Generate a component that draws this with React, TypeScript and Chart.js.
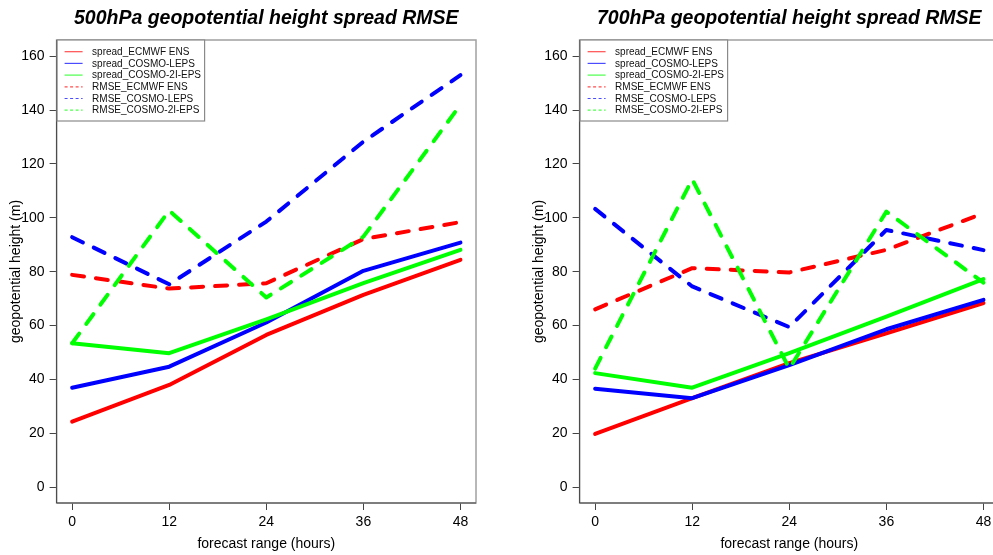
import { useEffect, useRef } from "react";
import { Chart, registerables } from "chart.js";

Chart.register(...registerables);

const FONT = "'Liberation Sans', Arial, Helvetica, sans-serif";

// ---- data ----
const hours = [0, 12, 24, 36, 48];
const yTickValues = [0, 20, 40, 60, 80, 100, 120, 140, 160];
const seriesLabels = [
  "spread_ECMWF ENS",
  "spread_COSMO-LEPS",
  "spread_COSMO-2I-EPS",
  "RMSE_ECMWF ENS",
  "RMSE_COSMO-LEPS",
  "RMSE_COSMO-2I-EPS",
];
const seriesColors = ["#FF0000", "#0000FF", "#00FF00", "#FF0000", "#0000FF", "#00FF00"];
const seriesDashed = [false, false, false, true, true, true];

const titles = [
  "500hPa geopotential height spread RMSE",
  "700hPa geopotential height spread RMSE",
];
const xAxisTitle = "forecast range (hours)";
const yAxisTitle = "geopotential height (m)";

// 500 hPa
const spreadECMWF500 = [24.3, 37.9, 56.5, 71.4, 84.4];
const spreadLEPS500 = [36.9, 44.7, 61.1, 80.3, 90.8];
const spread2I500 = [53.4, 49.7, 62.3, 75.7, 88.1];
const rmseECMWF500 = [78.8, 73.7, 75.7, 92.1, 98.4];
const rmseLEPS500 = [92.8, 75.3, 98.6, 128.3, 153.0];
const rmse2I500 = [53.4, 102.7, 70.4, 93.0, 142.0];

// 700 hPa
const spreadECMWF700 = [19.7, 33.0, 46.0, 57.1, 68.3];
const spreadLEPS700 = [36.5, 33.0, 45.3, 58.6, 69.5];
const spread2I700 = [42.3, 36.9, 49.7, 63.3, 77.2];
const rmseECMWF700 = [66.0, 81.3, 79.7, 88.1, 101.7];
const rmseLEPS700 = [103.3, 74.5, 59.4, 95.5, 88.0];
const rmse2I700 = [44.0, 114.3, 44.0, 102.3, 75.9];

const panel500 = [spreadECMWF500, spreadLEPS500, spread2I500, rmseECMWF500, rmseLEPS500, rmse2I500];
const panel700 = [spreadECMWF700, spreadLEPS700, spread2I700, rmseECMWF700, rmseLEPS700, rmse2I700];

const CANVAS_W = 496;
const CANVAS_H = 555;

const framePlugin = {
  id: "rframe",
  afterDraw(chart: any, _args: any, opts: any) {
    const { ctx, chartArea } = chart;
    const { left, right, top, bottom } = chartArea;
    ctx.save();
    // box
    ctx.strokeStyle = "#a0a0a0";
    ctx.lineWidth = 1.5;
    ctx.strokeRect(left, top, right - left, bottom - top);
    // dark axis lines
    ctx.strokeStyle = "#444";
    ctx.lineWidth = 1;
    ctx.beginPath();
    ctx.moveTo(left, top);
    ctx.lineTo(left, bottom);
    ctx.lineTo(right, bottom);
    ctx.stroke();

    // legend
    const lx0 = left + 0.5;
    const lx1 = left + 148;
    const ly0 = top;
    const ly1 = top + 81;
    ctx.fillStyle = "#ffffff";
    ctx.fillRect(lx0, ly0, lx1 - lx0, ly1 - ly0);
    ctx.strokeStyle = "#8a8a8a";
    ctx.lineWidth = 1.2;
    ctx.strokeRect(lx0, ly0, lx1 - lx0, ly1 - ly0);
    ctx.font = `10px ${FONT}`;
    ctx.textBaseline = "middle";
    ctx.textAlign = "left";
    chart.data.datasets.forEach((ds: any, i: number) => {
      const y = top + 11.7 + i * 11.7;
      ctx.save();
      ctx.globalAlpha = 0.7;
      ctx.strokeStyle = ds.borderColor;
      ctx.lineWidth = 1.2;
      ctx.setLineDash(ds.borderDash && ds.borderDash.length ? [3, 2.5] : []);
      ctx.beginPath();
      ctx.moveTo(left + 8, y);
      ctx.lineTo(left + 26, y);
      ctx.stroke();
      ctx.restore();
      ctx.fillStyle = "#111";
      ctx.fillText(ds.label, left + 35.5, y + 0.5);
    });

    // title
    ctx.fillStyle = "#000";
    ctx.font = `italic bold 19.5px ${FONT}`;
    ctx.textAlign = "center";
    ctx.textBaseline = "alphabetic";
    ctx.fillText(opts.title, (left + right) / 2, 23.5);
    ctx.restore();
  },
};

function Panel({ series, title, left }: { series: number[][]; title: string; left: number }) {
  const ref = useRef<HTMLCanvasElement | null>(null);
  useEffect(() => {
    if (!ref.current) return;
    const datasets = series.map((vals, i) => ({
      label: seriesLabels[i],
      data: hours.map((h, j) => ({ x: h, y: vals[j] })),
      borderColor: seriesColors[i],
      backgroundColor: seriesColors[i],
      borderWidth: 4,
      borderDash: seriesDashed[i] ? [12, 12] : [],
      borderCapStyle: "round",
      borderJoinStyle: "round",
      pointRadius: 0,
      fill: false,
      tension: 0,
      order: series.length - i,
    }));
    const chart = new Chart(ref.current, {
      type: "line",
      data: { datasets } as any,
      plugins: [framePlugin as any],
      options: {
        animation: false,
        responsive: false,
        devicePixelRatio: 1,
        layout: { padding: { left: 0, right: 20, top: 40, bottom: 0 } },
        plugins: {
          legend: { display: false },
          title: { display: false },
          tooltip: { enabled: false },
          rframe: { title },
        } as any,
        scales: {
          x: {
            type: "linear",
            min: -1.92,
            max: 49.92,
            afterBuildTicks: (scale: any) => {
              scale.ticks = hours.map((v) => ({ value: v }));
            },
            afterFit: (scale: any) => {
              scale.height = 52;
            },
            ticks: {
              color: "#000",
              font: { family: FONT, size: 14 },
              padding: 4,
              maxRotation: 0,
              autoSkip: false,
            },
            grid: { drawOnChartArea: false, drawTicks: true, tickLength: 7, color: "#444" },
            border: { display: false },
            title: {
              display: true,
              text: xAxisTitle,
              color: "#000",
              font: { family: FONT, size: 14 },
              padding: { top: 0, bottom: 2 },
            },
          },
          y: {
            type: "linear",
            min: -5.94,
            max: 166.05,
            afterBuildTicks: (scale: any) => {
              scale.ticks = yTickValues.map((v) => ({ value: v }));
            },
            afterFit: (scale: any) => {
              scale.width = 56.6;
            },
            ticks: {
              color: "#000",
              font: { family: FONT, size: 14 },
              padding: 5,
              autoSkip: false,
            },
            grid: { drawOnChartArea: false, drawTicks: true, tickLength: 7, color: "#444" },
            border: { display: false },
            title: {
              display: true,
              text: yAxisTitle,
              color: "#000",
              font: { family: FONT, size: 14 },
              padding: { top: 8, bottom: 0 },
            },
          },
        },
      } as any,
    });
    return () => chart.destroy();
  }, [series, title]);
  return (
    <canvas
      ref={ref}
      width={CANVAS_W}
      height={CANVAS_H}
      style={{ position: "absolute", left, top: 0, width: CANVAS_W, height: CANVAS_H }}
    />
  );
}

export default function App() {
  return (
    <div
      style={{
        position: "fixed",
        left: 0,
        top: 0,
        width: 993,
        height: 555,
        overflow: "hidden",
        background: "#fff",
      }}
    >
      <Panel series={panel500} title={titles[0]} left={0} />
      <Panel series={panel700} title={titles[1]} left={522.6} />
    </div>
  );
}
